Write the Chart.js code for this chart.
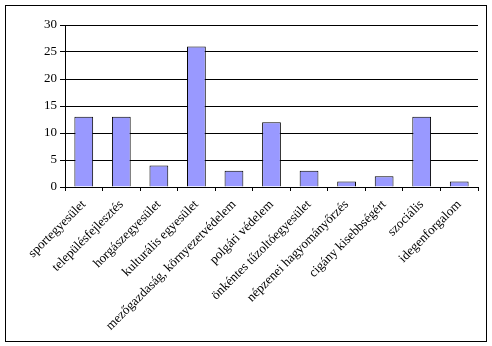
<!DOCTYPE html>
<html>
<head>
<meta charset="utf-8">
<script src="https://cdn.jsdelivr.net/npm/chart.js@4/dist/chart.umd.min.js"></script>
<style>
  html, body { margin: 0; padding: 0; background: #fff; }
  #wrap { width: 492px; height: 346px; position: relative; }
</style>
</head>
<body>
<div id="wrap"><canvas id="chart" width="492" height="346"></canvas></div>
<script>
/* ── Adatok ─────────────────────────────────────────── */
const kategoriak = [
  'sportegyesület',
  'településfejlesztés',
  'horgászegyesület',
  'kulturális egyesület',
  'mezőgazdaság, környezetvédelem',
  'polgári védelem',
  'önkéntes tűzoltóegyesület',
  'népzenei hagyományőrzés',
  'cigány kisebbségért',
  'szociális',
  'idegenforgalom'
];
const darab = [13, 13, 4, 26, 3, 12, 3, 1, 2, 13, 1];
const yTicks = [0, 5, 10, 15, 20, 25, 30];

const betu = { family: '"Liberation Serif", "Times New Roman", serif', size: 13 };

/* keret a teljes ábra körül */
const keret = {
  id: 'keret',
  afterDraw(chart) {
    const c = chart.ctx;
    c.save();
    c.strokeStyle = '#000';
    c.lineWidth = 1;
    c.strokeRect(5.5, 5.5, 481, 336);
    c.restore();
  }
};

new Chart(document.getElementById('chart'), {
  type: 'bar',
  data: {
    labels: kategoriak,
    datasets: [{
      data: darab,
      backgroundColor: '#9999FF',
      borderColor: '#000',
      borderWidth: 1,
      barPercentage: 0.5,
      categoryPercentage: 1
    }]
  },
  options: {
    responsive: false,
    animation: false,
    layout: { padding: { left: 5, top: 25, right: 14, bottom: 0 } },
    plugins: { legend: { display: false }, tooltip: { enabled: false } },
    scales: {
      x: {
        offset: true,
        border: { color: '#000', width: 1 },
        grid: { drawOnChartArea: false, drawTicks: true, tickLength: 4, color: '#000' },
        ticks: { color: '#000', font: betu, minRotation: 45, maxRotation: 45, autoSkip: false, padding: 6 },
        afterFit(s) { s.height = 159; }
      },
      y: {
        min: 0, max: 30,
        afterBuildTicks(s) { s.ticks = yTicks.map(v => ({ value: v })); },
        border: { color: '#000', width: 1 },
        grid: { color: '#000', lineWidth: 1, drawTicks: true, tickLength: 5 },
        ticks: { color: '#000', font: betu, padding: 3 },
        afterFit(s) { s.width = 60; }
      }
    }
  },
  plugins: [keret]
});
</script>
</body>
</html>
